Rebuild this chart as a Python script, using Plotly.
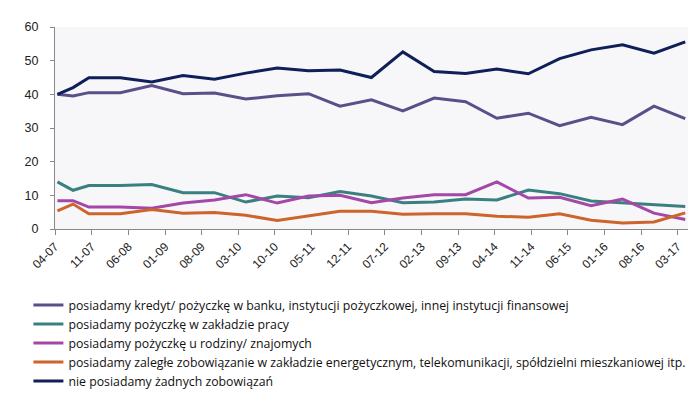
import plotly.graph_objects as go

dates = ["2007-04-15", "2007-07-15", "2007-10-15", "2008-04-15", "2008-10-15",
         "2009-04-15", "2009-10-15", "2010-04-15", "2010-10-15", "2011-04-15",
         "2011-10-15", "2012-04-15", "2012-10-15", "2013-04-15", "2013-10-15",
         "2014-04-15", "2014-10-15", "2015-04-15", "2015-10-15", "2016-04-15",
         "2016-10-15", "2017-04-15"]

kredyt = [40.0, 39.5, 40.5, 40.5, 42.6, 40.2, 40.4, 38.6, 39.6, 40.2, 36.5,
          38.4, 35.1, 38.9, 37.8, 32.9, 34.4, 30.7, 33.2, 31.0, 36.5, 32.8]
praca = [14.0, 11.5, 12.9, 12.9, 13.2, 10.8, 10.8, 8.0, 9.8, 9.3, 11.1,
         9.8, 7.8, 8.0, 8.9, 8.6, 11.6, 10.5, 8.3, 7.7, 7.1, 6.7]
rodzina = [8.4, 8.4, 6.5, 6.5, 6.2, 7.7, 8.6, 10.2, 7.7, 9.8, 10.0,
           7.8, 9.2, 10.2, 10.2, 14.0, 9.2, 9.4, 6.9, 8.9, 4.7, 2.8]
zalegle = [5.4, 7.4, 4.5, 4.5, 5.8, 4.7, 4.9, 4.1, 2.5, 4.0, 5.3,
           5.3, 4.4, 4.5, 4.5, 3.8, 3.5, 4.5, 2.6, 1.8, 2.1, 4.8]
brak = [40.0, 42.0, 44.9, 44.9, 43.7, 45.6, 44.5, 46.3, 47.8, 47.0, 47.2,
        45.0, 52.6, 46.8, 46.2, 47.5, 46.1, 50.6, 53.2, 54.7, 52.2, 55.6]

series_names = [
    "posiadamy kredyt/ pożyczkę w banku, instytucji pożyczkowej, innej instytucji finansowej",
    "posiadamy pożyczkę w zakładzie pracy",
    "posiadamy pożyczkę u rodziny/ znajomych",
    "posiadamy zaległe zobowiązanie w zakładzie energetycznym, telekomunikacji, spółdzielni mieszkaniowej itp.",
    "nie posiadamy żadnych zobowiązań",
]
series_values = [kredyt, praca, rodzina, zalegle, brak]
series_colors = ["#5b4f8a", "#3b8080", "#a347a8", "#cc652b", "#0f1f58"]

tick_dates = ["2007-04-01", "2007-11-01", "2008-06-01", "2009-01-01", "2009-08-01",
              "2010-03-01", "2010-10-01", "2011-05-01", "2011-12-01", "2012-07-01",
              "2013-02-01", "2013-09-01", "2014-04-01", "2014-11-01", "2015-06-01",
              "2016-01-01", "2016-08-01", "2017-03-01"]
tick_labels = ["04-07", "11-07", "06-08", "01-09", "08-09", "03-10", "10-10", "05-11",
               "12-11", "07-12", "02-13", "09-13", "04-14", "11-14", "06-15", "01-16",
               "08-16", "03-17"]

fig = go.Figure()
for name, vals, col in zip(series_names, series_values, series_colors):
    fig.add_trace(go.Scatter(x=dates, y=vals, name=name, mode="lines",
                             line=dict(color=col, width=3)))

fig.update_layout(
    width=700, height=400,
    margin=dict(l=47, r=20, t=12, b=166),
    paper_bgcolor="white",
    plot_bgcolor="#f7f7f9",
    font=dict(family="Liberation Sans, Arial", color="#222"),
    showlegend=True,
    legend=dict(orientation="v", x=-0.042, xanchor="left", y=-0.305, yanchor="top",
                font=dict(size=12.3, family="Open Sans, Liberation Sans", color="#111"),
                bgcolor="rgba(0,0,0,0)", tracegroupgap=0, itemwidth=30),
)
fig.update_xaxes(
    range=["2007-04-01", "2017-05-01"],
    tickvals=tick_dates, ticktext=tick_labels, tickangle=-45,
    showgrid=False, showline=True, linecolor="#888", linewidth=1,
    ticks="outside", ticklen=5, tickcolor="#888",
    tickfont=dict(size=12, family="Liberation Sans, Arial", color="#222"),
    zeroline=False,
)
fig.update_yaxes(
    range=[0, 60], dtick=10, tick0=0,
    showgrid=False, showline=True, linecolor="#888", linewidth=1,
    ticks="outside", ticklen=4, tickcolor="#888", ticklabelstandoff=9,
    tickfont=dict(size=12.5, family="Liberation Sans, Arial", color="#222"),
    zeroline=False,
)

fig.write_html("out.html")
